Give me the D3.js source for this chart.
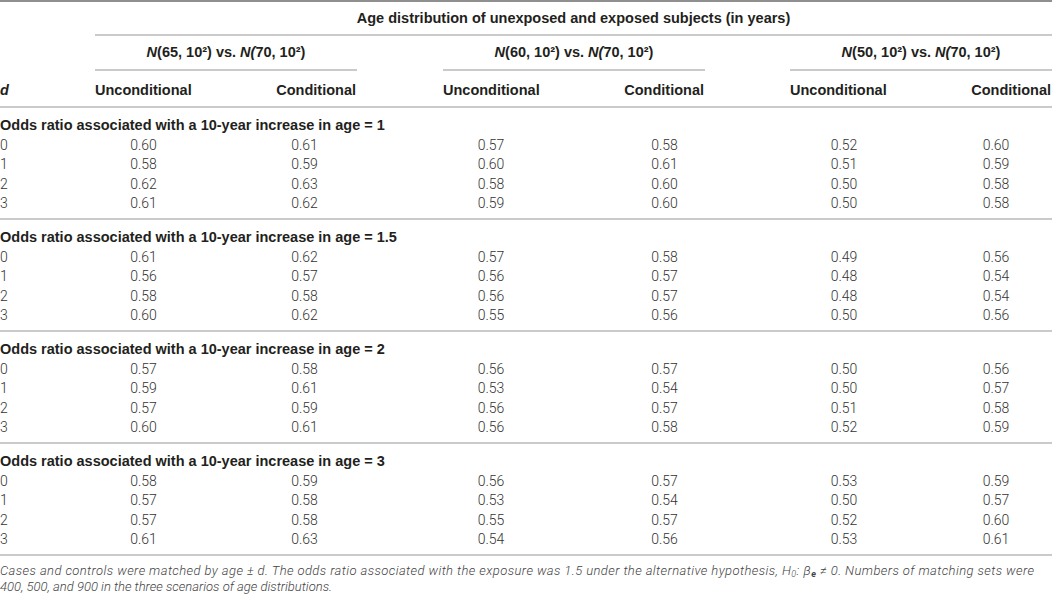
<!DOCTYPE html>
<html>
<head>
<meta charset="utf-8">
<script src="https://cdn.jsdelivr.net/npm/d3@7"></script>
<style>
body { margin: 0; background: #fff; }
text { font-family: "Liberation Sans", Arial, sans-serif; }
.hd { font-weight: bold; font-size: 14.5px; fill: #231f20; }
.num { font-family: Roboto, "Liberation Sans", sans-serif; font-weight: 300; font-size: 14px; fill: #333; }
.note { font-family: Roboto, "Liberation Sans", sans-serif; font-style: italic; font-weight: 300; font-size: 13px; fill: #444; }
.rule { stroke: #b8b8b8; stroke-width: 1.5; }
</style>
</head>
<body>
<svg id="table" width="1052" height="596"></svg>
<script>
// table content
var unexposedMeans = [65, 60, 50];
var exposedMean = 70;
var methods = ["Unconditional", "Conditional"];
var oddsRatios = ["1", "1.5", "2", "3"];
var dValues = ["0", "1", "2", "3"];

var or1  = [[0.60, 0.61, 0.57, 0.58, 0.52, 0.60],
            [0.58, 0.59, 0.60, 0.61, 0.51, 0.59],
            [0.62, 0.63, 0.58, 0.60, 0.50, 0.58],
            [0.61, 0.62, 0.59, 0.60, 0.50, 0.58]];
var or15 = [[0.61, 0.62, 0.57, 0.58, 0.49, 0.56],
            [0.56, 0.57, 0.56, 0.57, 0.48, 0.54],
            [0.58, 0.58, 0.56, 0.57, 0.48, 0.54],
            [0.60, 0.62, 0.55, 0.56, 0.50, 0.56]];
var or2  = [[0.57, 0.58, 0.56, 0.57, 0.50, 0.56],
            [0.59, 0.61, 0.53, 0.54, 0.50, 0.57],
            [0.57, 0.59, 0.56, 0.57, 0.51, 0.58],
            [0.60, 0.61, 0.56, 0.58, 0.52, 0.59]];
var or3  = [[0.58, 0.59, 0.56, 0.57, 0.53, 0.59],
            [0.57, 0.58, 0.53, 0.54, 0.50, 0.57],
            [0.57, 0.58, 0.55, 0.57, 0.52, 0.60],
            [0.61, 0.63, 0.54, 0.56, 0.53, 0.61]];
var blocks = [or1, or15, or2, or3];

var svg = d3.select("#table");
var W = 1052;
var fmt = d3.format(".2f");

// column positions
var numX = d3.scaleOrdinal().domain(d3.range(6))
  .range([143.5, 304.5, 491, 664.5, 844, 996]);
var groupLeft = d3.scaleOrdinal().domain(d3.range(3)).range([95, 443, 790]);
var groupRight = d3.scaleOrdinal().domain(d3.range(3)).range([357, 705, 1052]);

// vertical positions
var blockY = d3.scaleLinear().domain([0, blocks.length]).range([107, 555]);
var rowY = d3.scaleLinear().domain([0, dValues.length - 1]).range([38, 96.5]);

// top rule
svg.append("line").attr("x1", 0).attr("x2", W).attr("y1", 1).attr("y2", 1)
  .attr("stroke", "#8f8f8f").attr("stroke-width", 2);

svg.append("text").attr("class", "hd")
  .attr("x", (95 + W) / 2).attr("y", 18).attr("dy", "0.35em")
  .attr("text-anchor", "middle")
  .text("Age distribution of unexposed and exposed subjects (in years)");

svg.append("line").attr("class", "rule")
  .attr("x1", 95).attr("x2", W).attr("y1", 35).attr("y2", 35);

// distribution group headers
var groups = svg.selectAll(".grp")
  .data(unexposedMeans).enter()
  .append("g").attr("class", "grp");

var gt = groups.append("text").attr("class", "hd")
  .attr("x", function(d, i){ return (groupLeft(i) + groupRight(i)) / 2; })
  .attr("y", 52).attr("dy", "0.35em")
  .attr("text-anchor", "middle");
gt.append("tspan").attr("font-style", "italic").text("N");
gt.append("tspan").text(function(d){ return "(" + d + ", 10\u00B2) vs. "; });
gt.append("tspan").attr("font-style", "italic").text("N(");
gt.append("tspan").text(exposedMean + ", 10\u00B2)");

groups.append("line").attr("class", "rule")
  .attr("x1", function(d, i){ return groupLeft(i); })
  .attr("x2", function(d, i){ return groupRight(i); })
  .attr("y1", 70).attr("y2", 70);

groups.append("text").attr("class", "hd")
  .attr("x", function(d, i){ return groupLeft(i); })
  .attr("y", 90).attr("dy", "0.35em")
  .text(methods[0]);

groups.append("text").attr("class", "hd")
  .attr("x", function(d, i){ return groupRight(i) - 1; })
  .attr("y", 90).attr("dy", "0.35em")
  .attr("text-anchor", "end")
  .text(methods[1]);

svg.append("text").attr("class", "hd")
  .attr("x", 0).attr("y", 90).attr("dy", "0.35em")
  .attr("font-style", "italic")
  .text("d");

// blocks of odds ratios
blocks.forEach(function(rows, b){
  var top = blockY(b);
  svg.append("line").attr("class", "rule")
    .attr("x1", 0).attr("x2", W).attr("y1", top).attr("y2", top);

  svg.append("text").attr("class", "hd")
    .attr("x", 0).attr("y", top + 18).attr("dy", "0.35em")
    .text("Odds ratio associated with a 10-year increase in age = " + oddsRatios[b]);

  var row = svg.selectAll(".row" + b)
    .data(rows).enter()
    .append("g").attr("class", "row" + b)
    .attr("transform", function(d, i){ return "translate(0," + (top + rowY(i)) + ")"; });

  row.append("text").attr("class", "num")
    .attr("x", 0).attr("dy", "0.35em")
    .text(function(d, i){ return dValues[i]; });

  row.selectAll(".cell")
    .data(function(d){ return d; }).enter()
    .append("text").attr("class", "num cell")
    .attr("x", function(d, j){ return numX(j); })
    .attr("dy", "0.35em")
    .attr("text-anchor", "middle")
    .text(function(d){ return fmt(d); });
});

var bottom = blockY(blocks.length);
svg.append("line").attr("class", "rule")
  .attr("x1", 0).attr("x2", W).attr("y1", bottom).attr("y2", bottom);

// footnote
var n1 = svg.append("text").attr("class", "note")
  .attr("x", 0).attr("y", bottom + 15).attr("dy", "0.35em")
  .attr("textLength", 1034).attr("lengthAdjust", "spacing");
n1.append("tspan").text("Cases and controls were matched by age \u00B1 d. The odds ratio associated with the exposure was 1.5 under the alternative hypothesis, H");
n1.append("tspan").attr("font-size", "9px").attr("dy", "2").text("0");
n1.append("tspan").attr("dy", "-2").text(": \u03B2");
n1.append("tspan").attr("font-size", "9px").attr("dy", "2").attr("font-weight", "bold").text("e");
n1.append("tspan").attr("dy", "-2").text(" \u2260 0. Numbers of matching sets were");

svg.append("text").attr("class", "note")
  .attr("x", 0).attr("y", bottom + 31).attr("dy", "0.35em")
  .text("400, 500, and 900 in the three scenarios of age distributions.");
</script>
</body>
</html>
